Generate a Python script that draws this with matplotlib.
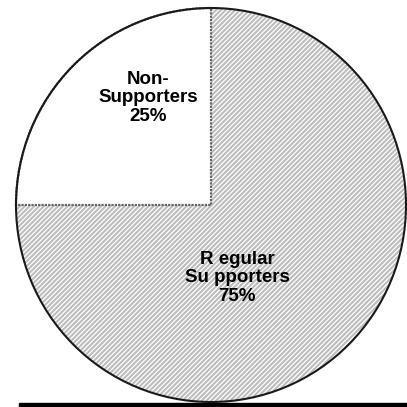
import matplotlib.pyplot as plt
from matplotlib.patches import Rectangle, Circle

labels = ['Non-\nSupporters', 'R egular\nSu pporters']
shares = [25, 75]

plt.rcParams['hatch.color'] = 'white'
plt.rcParams['hatch.linewidth'] = 0.9

W = 407
fig = plt.figure(figsize=(W / 100, W / 100), dpi=100)
ax = fig.add_axes([0, 0, 1, 1])

# pie is slightly squashed in the original
cx, cy, rx, ry = 211, 205, 195, 197

wedges, _ = ax.pie(shares, startangle=90, counterclock=True,
                   colors=['white', '#bdbdbd'],
                   wedgeprops=dict(linewidth=0))
wedges[1].set_hatch('///////')
wedges[1].set_edgecolor('white')
wedges[1].set_linewidth(0)

# dotted edge of the small slice
outl, _ = ax.pie(shares, startangle=90, counterclock=True,
                 wedgeprops=dict(fill=False, linewidth=1.6, edgecolor='#666666',
                                 linestyle=(0, (1, 0.5))))
outl[1].set_visible(False)

# dark rim
ax.add_patch(Circle((0, 0), 1, fill=False, edgecolor='#1a1a1a', linewidth=1.5))

ax.set_xlim(-cx / rx, (W - cx) / rx)
ax.set_ylim(-(W - cy) / ry, cy / ry)
ax.set_aspect('auto')
ax.axis('off')

label_pos = [(148, 98), (237, 278)]
for lab, s, (x, y) in zip(labels, shares, label_pos):
    fig.text(x / W, 1 - y / W, '%s\n%d%%' % (lab, s), ha='center', va='center',
             fontsize=13.5, fontweight='bold', family='Liberation Sans',
             linespacing=1.1, color='black')

# black baseline at the bottom
fig.add_artist(Rectangle((19 / W, 0), 388 / W, 4.5 / W, color='black',
                         transform=fig.transFigure, zorder=5))

fig.savefig('out.png', dpi=100)
